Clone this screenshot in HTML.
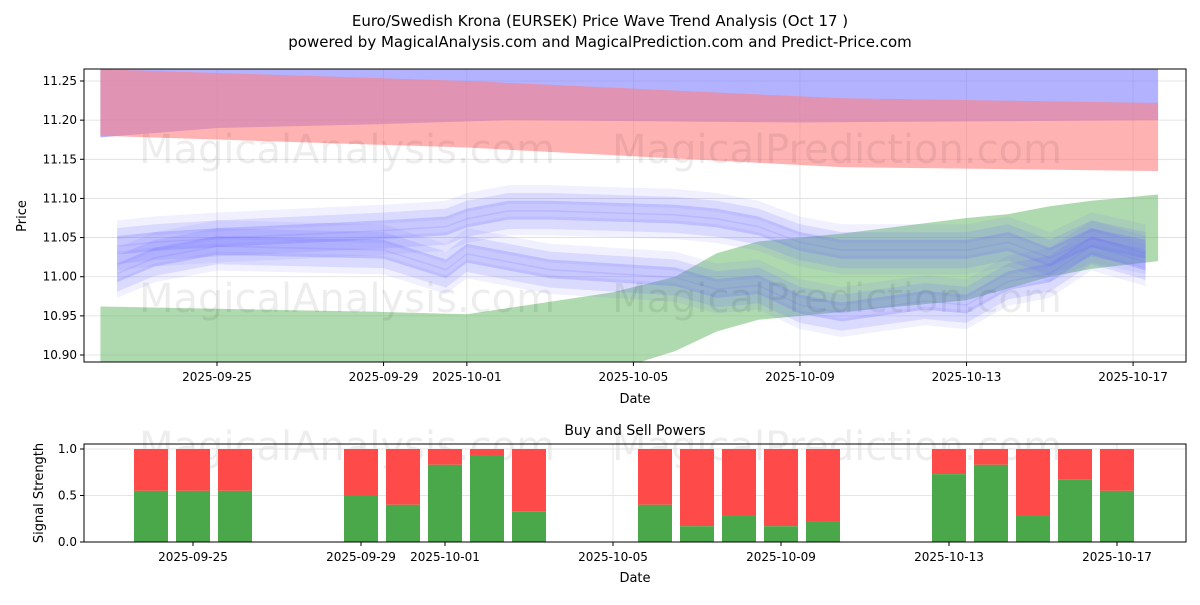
<!DOCTYPE html>
<html><head><meta charset="utf-8"><style>
body{margin:0;background:#fff;font-family:"Liberation Sans","DejaVu Sans",sans-serif}
svg text{font-family:"DejaVu Sans","Liberation Sans",sans-serif}
</style></head><body>
<svg id="c" width="1200" height="600">
<text x="600" y="26" font-size="15" text-anchor="middle">Euro/Swedish Krona (EURSEK) Price Wave Trend Analysis (Oct 17 )</text>
<text x="600" y="47" font-size="15" text-anchor="middle">powered by MagicalAnalysis.com and MagicalPrediction.com and Predict-Price.com</text>
<defs><clipPath id="cp1"><rect x="84" y="69" width="1102" height="293"/></clipPath></defs>
<g id="top" clip-path="url(#cp1)"></g>
<g id="topax"></g>
<g id="bot"></g>
</svg>
<script>
// top chart data (days from 2025-09-25)
const redD=[-2.8,6,15,22.6];
const redHi=[11.265,11.25,11.228,11.222];
const redLo=[11.18,11.165,11.14,11.135];
const bluTopD=[-2.8,0,4,7,14,22.6];
const bluTopLo=[11.178,11.19,11.195,11.2,11.197,11.2];
const grnD=[-2.8,4,6,7,9.5,11,12,13,15,18,19,20,21,22.6];
const grnHi=[10.962,10.955,10.952,10.96,10.98,11.0,11.03,11.045,11.055,11.075,11.08,11.09,11.097,11.105];
const grnLo=[10.86,10.85,10.85,10.86,10.88,10.905,10.93,10.945,10.955,10.97,10.985,11.0,11.01,11.02];
const waveD=[-2.4,-1.5,0,4,5.5,6,7,8,11,12,13,14,15,17,18,19,20,21,22.3];
const waveA=[11.04,11.045,11.05,11.06,11.065,11.075,11.085,11.085,11.08,11.075,11.065,11.045,11.035,11.035,11.035,11.045,11.025,11.05,11.035];
const waveB=[11.005,11.025,11.04,11.035,11.01,11.03,11.02,11.01,11.0,10.985,10.99,10.965,10.955,10.97,10.965,10.995,11.005,11.04,11.02];
// bottom chart data
const barD=[-1,0,1,4,5,6,7,8,11,12,13,14,15,18,19,20,21,22];
const buyV=[0.55,0.55,0.55,0.5,0.4,0.83,0.93,0.33,0.4,0.17,0.28,0.17,0.22,0.73,0.83,0.28,0.67,0.55];
const topTicks=["11.25","11.20","11.15","11.10","11.05","11.00","10.95","10.90"];
const dateTicks=["2025-09-25","2025-09-29","2025-10-01","2025-10-05","2025-10-09","2025-10-13","2025-10-17"];
const dateTickD=[0,4,6,10,14,18,22];

const NS="http://www.w3.org/2000/svg";
function mk(p,t,a){const e=document.createElementNS(NS,t);for(const k in a)e.setAttribute(k,a[k]);p.appendChild(e);return e;}
const X=d=>217+d*41.64, Y=v=>81+(11.25-v)*782.9;
const XB=d=>193+d*42, YB=v=>542-v*93;
const gTop=document.getElementById('top'),gTax=document.getElementById('topax'),gBot=document.getElementById('bot');
function band(d,hi,lo,fill,op,name){
  let pts=d.map((x,i)=>X(x)+','+Y(hi[i]));
  pts=pts.concat(d.map((x,i)=>X(x)+','+Y(lo[i])).reverse());
  const p=mk(gTop,'polygon',{points:pts.join(' '),fill:fill,'fill-opacity':op});
  
  
}
topTicks.forEach(t=>mk(gTop,'line',{x1:84,x2:1186,y1:Y(+t),y2:Y(+t),stroke:'#ddd','stroke-width':0.8}));
dateTickD.forEach(d=>mk(gTop,'line',{x1:X(d),x2:X(d),y1:69,y2:362,stroke:'#ddd','stroke-width':0.8}));
band(bluTopD,bluTopD.map(()=>11.3),bluTopLo,'#7f7fff',0.6,'blue-top-band');
band(redD,redHi,redLo,'#ff7f7f',0.6,'red-band');
band(grnD,grnHi,grnLo,'#5fb55f',0.5,'green-band');
[[-0.012,0.16],[0,0.25],[0.01,0.16],[-0.02,0.1],[0.02,0.1]].forEach((o,k)=>{
  band(waveD,waveA.map(v=>v+o[0]+0.012),waveA.map(v=>v+o[0]-0.012),'#6a6aff',o[1],'wave-band-a');
  band(waveD,waveB.map(v=>v+o[0]+0.012),waveB.map(v=>v+o[0]-0.012),'#6a6aff',o[1],'wave-band-b');
});
[[347,163],[837,163],[347,312],[837,312],[347,460],[837,460]].forEach(p=>{
  const t=mk(p[1]>400?gBot:gTax,'text',{x:p[0],y:p[1],'font-size':40,'text-anchor':'middle',fill:'#000','fill-opacity':0.07});
  t.textContent=p[0]<500?'MagicalAnalysis.com':'MagicalPrediction.com';
  
  
});
mk(gTax,'rect',{x:84,y:69,width:1102,height:293,fill:'none',stroke:'#000','stroke-width':1});
topTicks.forEach(t=>{const y=Y(+t);mk(gTax,'line',{x1:80,x2:84,y1:y,y2:y,stroke:'#000'});
  const e=mk(gTax,'text',{x:77,y:y+4,'font-size':12,'text-anchor':'end'});e.textContent=t;
  
  });
dateTicks.forEach((t,i)=>{const x=X(dateTickD[i]);mk(gTax,'line',{x1:x,x2:x,y1:362,y2:366,stroke:'#000'});
  const e=mk(gTax,'text',{x:x,y:381,'font-size':12,'text-anchor':'middle'});e.textContent=t;
  
  });
let e1=mk(gTax,'text',{x:635,y:403,'font-size':13,'text-anchor':'middle'});e1.textContent='Date';


e1=mk(gTax,'text',{x:26,y:216,'font-size':13,'text-anchor':'middle',transform:'rotate(-90 26 216)'});e1.textContent='Price';


[0,0.5,1].forEach(v=>mk(gBot,'line',{x1:84,x2:1186,y1:YB(v),y2:YB(v),stroke:'#ddd','stroke-width':0.8}));
dateTickD.forEach(d=>mk(gBot,'line',{x1:XB(d),x2:XB(d),y1:444,y2:542,stroke:'#ddd','stroke-width':0.8}));
barD.forEach((d,i)=>{
  const x=XB(d)-17;
  const s=mk(gBot,'rect',{x:x,y:YB(1),width:34,height:YB(buyV[i])-YB(1),fill:'#ff4a4a'});
  
  
  const b=mk(gBot,'rect',{x:x,y:YB(buyV[i]),width:34,height:YB(0)-YB(buyV[i]),fill:'#4aa84a'});
  
  
});
mk(gBot,'rect',{x:84,y:444,width:1102,height:98,fill:'none',stroke:'#000'});
[["0.0",0],["0.5",0.5],["1.0",1]].forEach(t=>{const y=YB(t[1]);mk(gBot,'line',{x1:80,x2:84,y1:y,y2:y,stroke:'#000'});
  const e=mk(gBot,'text',{x:77,y:y+4,'font-size':12,'text-anchor':'end'});e.textContent=t[0];
  
  });
dateTicks.forEach((t,i)=>{const x=XB(dateTickD[i]);mk(gBot,'line',{x1:x,x2:x,y1:542,y2:546,stroke:'#000'});
  const e=mk(gBot,'text',{x:x,y:561,'font-size':12,'text-anchor':'middle'});e.textContent=t;
  
  });
e1=mk(gBot,'text',{x:635,y:435,'font-size':14,'text-anchor':'middle'});e1.textContent='Buy and Sell Powers';


e1=mk(gBot,'text',{x:635,y:582,'font-size':13,'text-anchor':'middle'});e1.textContent='Date';


e1=mk(gBot,'text',{x:43,y:493,'font-size':13,'text-anchor':'middle',transform:'rotate(-90 43 493)'});e1.textContent='Signal Strength';


</script>
</body></html>
